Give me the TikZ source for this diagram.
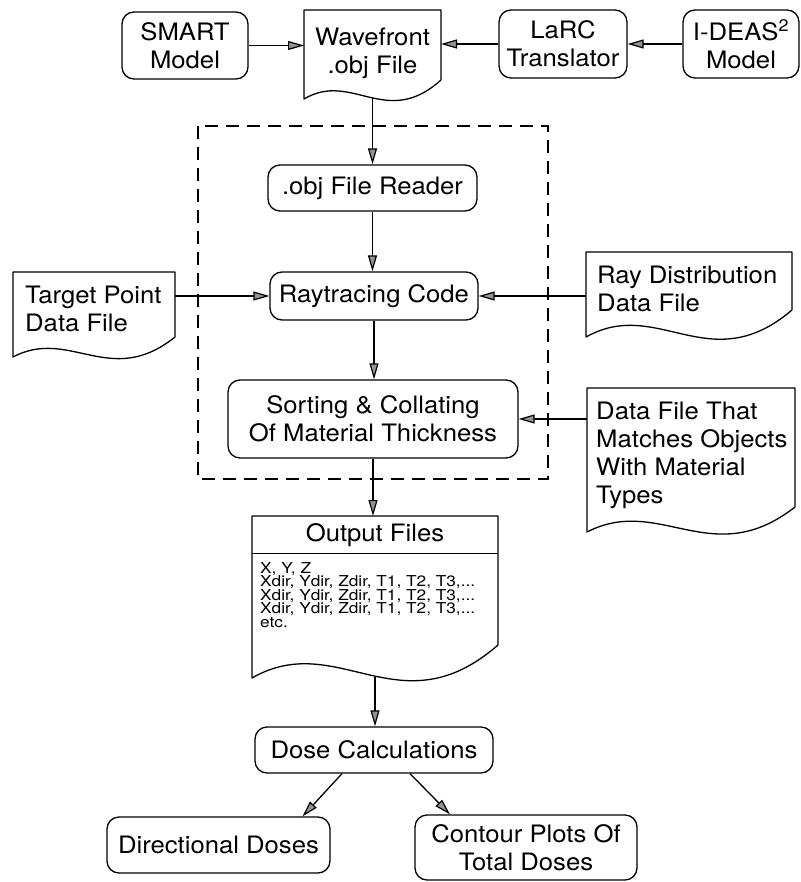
\documentclass[tikz,border=0pt]{standalone}
\usepackage{fontspec}
\setmainfont{TeX Gyre Heros}[FakeStretch=1.07]
\newfontfamily\listfamily{TeX Gyre Heros}[FakeStretch=1.15]
\usetikzlibrary{arrows.meta,calc,positioning}

% 正文字号
\newcommand{\boxfont}{\fontsize{24pt}{28pt}\selectfont}

% 文件框外形：#1 节点名，#2 左下角比右下角低多少
\newcommand{\docoutline}[2]{%
  \draw[docline] (#1.south east) -- (#1.north east) -- (#1.north west)
    -- ([yshift=-#2]#1.south west)
    .. controls ($(#1.south west)!0.35!(#1.south east)+(0pt,0.5*#2)$)
    and ($(#1.south west)!0.6!(#1.south east)+(0pt,-2.6*#2)$) .. (#1.south east);}

\begin{document}
\begin{tikzpicture}[x=1pt, y=-1pt,
    % 圆角处理框
    process/.style={draw, line width=1.3pt, rounded corners=12pt, align=center,
        inner sep=0pt, font=\boxfont},
    % 文件框（只占位，外形由 \docoutline 画出）
    docframe/.style={inner sep=0pt, outer sep=0pt},
    % 文件框线条
    docline/.style={line width=1.3pt, line join=round},
    % 文件框中的文字
    doctext/.style={inner sep=0pt, align=left, font=\boxfont},
    % 流程箭头
    flow/.style={line width=1.3pt,
        -{Triangle[length=16pt, width=9pt, fill=gray!85, line width=1.2pt]}},
    % 虚线分组框
    groupline/.style={line width=1.3pt, dash pattern=on 13pt off 8pt},
    % 输出文件中的数据行
    listtext/.style={inner sep=0pt, align=left, font=\listfamily\fontsize{15pt}{13.4pt}\selectfont}
]
    \useasboundingbox (0,0) rectangle (800,882);

    % 1. 顶部一行：模型与几何文件
    \node[process, minimum width=126pt, minimum height=67pt] (smart) at (185,45.5) {SMART\\Model};
    \node[docframe, minimum width=137pt, minimum height=70pt] (wavefront) at (372.5,45) {};
    \docoutline{wavefront}{19pt}
    \node[doctext, align=center, below=18pt of wavefront.north] (wavefront-t) {Wavefront\\.obj File};
    \node[process, minimum width=128pt, minimum height=68pt] (larc) at (563,44) {LaRC\\Translator};
    \node[process, minimum width=116pt, minimum height=68pt] (ideas) at (741,44) {I-DEAS\textsuperscript{2}\\Model};

    % 2. 虚线框及框内处理步骤
    \draw[groupline] (198,126) rectangle (548,479);
    \node[process, minimum width=209pt, minimum height=46pt] (reader) at (372.5,188) {.obj File Reader};
    \node[process, minimum width=208pt, minimum height=48pt] (raytrace) at (374,296) {Raytracing Code};
    \node[process, minimum width=290pt, minimum height=78pt] (sorting) at (373,419)
        {Sorting \& Collating\\Of Material Thickness};

    % 3. 两侧的输入数据文件
    \node[docframe, minimum width=162pt, minimum height=65pt] (target) at (94,304.5) {};
    \docoutline{target}{20pt}
    \node[doctext, below right=14pt and 12pt of target.north west] (target-t) {Target Point\\Data File};

    \node[docframe, minimum width=206pt, minimum height=58pt] (raydist) at (689,281) {};
    \docoutline{raydist}{27pt}
    \node[doctext, below right=14pt and 11pt of raydist.north west] (raydist-t) {Ray Distribution\\Data File};

    \node[docframe, minimum width=208pt, minimum height=119pt] (matfile) at (691,447.5) {};
    \docoutline{matfile}{25pt}
    \node[doctext, below right=14pt and 9pt of matfile.north west] (matfile-t)
        {Data File That\\Matches Objects\\With Material\\Types};

    % 4. 输出文件
    \node[docframe, minimum width=246pt, minimum height=129pt] (output) at (375,580.5) {};
    \docoutline{output}{33pt}
    \node[inner sep=0pt, minimum height=37pt, font=\boxfont, below=0pt of output.north] (output-h) {Output Files};
    \draw[docline] (output-h.south -| output.west) -- (output-h.south -| output.east);
    \node[listtext, anchor=north west] (output-b) at ($(output-h.south -| output.west)+(8pt,-9pt)$)
        {X, Y, Z\\Xdir, Ydir, Zdir, T1, T2, T3,...\\Xdir, Ydir, Zdir, T1, T2, T3,...\\Xdir, Ydir, Zdir, T1, T2, T3,...\\etc.};

    % 5. 剂量计算及结果
    \node[process, minimum width=238pt, minimum height=46pt] (dose) at (374,750) {Dose Calculations};
    \node[process, minimum width=223pt, minimum height=56pt] (direct) at (218.5,845) {Directional Doses};
    \node[process, minimum width=222pt, minimum height=65pt] (contour) at (526,847.5) {Contour Plots Of\\Total Doses};

    % 6. 箭头
    \draw[flow] (smart.east) -- (smart.east -| wavefront.west);
    \draw[flow] (larc.west) -- (larc.west -| wavefront.east);
    \draw[flow] (ideas.west) -- (larc.east);
    \draw[flow] ([yshift=-18pt]wavefront.south) -- (reader.north);
    \draw[flow] (reader.south) -- (reader.south |- raytrace.north);
    \draw[flow] (target.east |- raytrace.west) -- (raytrace.west);
    \draw[flow] (raydist.west |- raytrace.east) -- (raytrace.east);
    \draw[flow] (raytrace.south) -- (raytrace.south |- sorting.north);
    \draw[flow] (matfile.west |- sorting.east) -- (sorting.east);
    \draw[flow] (sorting.south) -- (sorting.south |- output.north);
    \draw[flow] ([yshift=-32pt]output.south) -- (output.south |- dose.north);
    \draw[flow] ($(dose.south)+(-32pt,0pt)$) -- ($(direct.north)+(84pt,0pt)$);
    \draw[flow] ($(dose.south)+(36pt,0pt)$) -- ($(contour.north)+(-76pt,0pt)$);

\end{tikzpicture}
\end{document}
